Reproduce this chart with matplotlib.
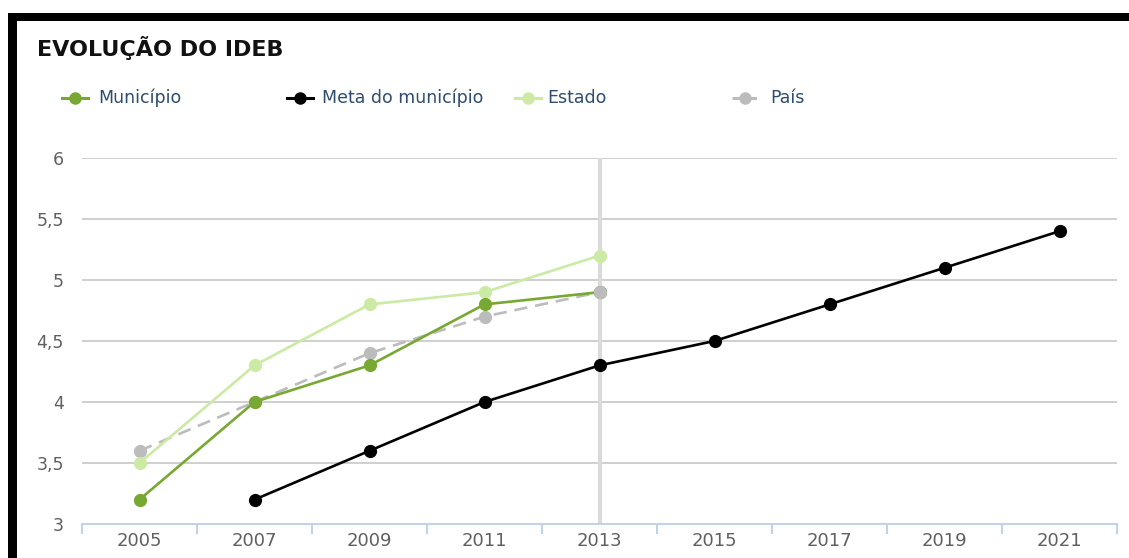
import matplotlib
matplotlib.use("Agg")
import matplotlib.pyplot as plt
from matplotlib.lines import Line2D
from matplotlib.patches import Rectangle
from matplotlib.ticker import FixedLocator, FuncFormatter

years = ["2005", "2007", "2009", "2011", "2013", "2015", "2017", "2019", "2021"]
municipio = [3.2, 4.0, 4.3, 4.8, 4.9]
meta = [None, 3.2, 3.6, 4.0, 4.3, 4.5, 4.8, 5.1, 5.4]
estado = [3.5, 4.3, 4.8, 4.9, 5.2]
pais = [3.6, 4.0, 4.4, 4.7, 4.9]
y_ticks = [3, 3.5, 4, 4.5, 5, 5.5, 6]

C_MUN = "#76a832"
C_META = "#000000"
C_EST = "#cbeaa3"
C_PAIS = "#bcbcbc"
C_LEG = "#2e4d6e"
C_TICK = "#606060"

W, H = 1129, 558
fig = plt.figure(figsize=(W / 100, H / 100), dpi=100)
fig.patch.set_facecolor("white")

# frame
fig.add_artist(Rectangle((8 / W, 0), 9 / W, 1 - 13 / H, transform=fig.transFigure,
                         facecolor="black", edgecolor="none"))
fig.add_artist(Rectangle((8 / W, 1 - 21 / H), 1 - 8 / W, 8 / H, transform=fig.transFigure,
                         facecolor="black", edgecolor="none"))

ax = fig.add_axes([82 / W, (H - 524) / H, (1117 - 82) / W, (524 - 158) / H])
ax.set_xlim(-0.5, len(years) - 0.5)
ax.set_ylim(3, 6)
for s in ["top", "right", "left"]:
    ax.spines[s].set_visible(False)
ax.spines["bottom"].set_color("#c3d3e6")
ax.spines["bottom"].set_linewidth(1.5)

ax.set_yticks(y_ticks)
ax.yaxis.set_major_formatter(FuncFormatter(lambda v, p: ("%g" % v).replace(".", ",")))
ax.tick_params(axis="y", length=0, pad=13, labelsize=12.5, labelcolor=C_TICK)
for yv in y_ticks[1:]:
    ax.axhline(yv, color="#cfcfcf", lw=1.4, zorder=0)

ax.set_xticks(range(len(years)))
ax.set_xticklabels(years)
ax.xaxis.set_minor_locator(FixedLocator([i - 0.5 for i in range(len(years) + 1)]))
ax.tick_params(axis="x", which="major", length=0, pad=6, labelsize=13, labelcolor=C_TICK)
ax.tick_params(axis="x", which="minor", length=7, width=1.5, color="#c3d3e6", direction="out")

# vertical marker at 2013
ax.axvline(years.index("2013"), color="#dadada", lw=3, zorder=1)

ms = 9.5
lw = 1.9
xi = list(range(len(years)))
ax.plot(xi[:len(pais)], pais, color=C_PAIS, lw=lw, ls=(0, (5, 3)), marker="o", ms=ms,
        markeredgewidth=0, zorder=3)
ax.plot(xi[:len(estado)], estado, color=C_EST, lw=lw, marker="o", ms=ms,
        markeredgewidth=0, zorder=3)
ax.plot(xi[:len(municipio)], municipio, color=C_MUN, lw=lw, marker="o", ms=ms,
        markeredgewidth=0, zorder=4)
mx = [x for x, v in zip(xi, meta) if v is not None]
my = [v for v in meta if v is not None]
ax.plot(mx, my, color=C_META, lw=lw, marker="o", ms=ms, markeredgewidth=0, zorder=5)
# pais point at 2013 drawn on top (as in reference)
ax.plot([xi[len(pais) - 1]], [pais[-1]], color=C_PAIS, marker="o", ms=ms,
        markeredgewidth=0, zorder=6)

# title
fig.text(37 / W, 1 - 48 / H, "EVOLUÇÃO DO IDEB", fontsize=16, fontweight="bold",
         color="#111111", va="center", ha="left")

# legend
legend_items = [
    ("Município", C_MUN, "-", 75, 98),
    ("Meta do município", C_META, "-", 300, 322),
    ("Estado", C_EST, "-", 528, 547),
    ("País", C_PAIS, (0, (3, 2)), 745, 770),
]
ly = 1 - 98 / H
for label, col, ls, mxp, tx in legend_items:
    fig.add_artist(Line2D([(mxp - 13) / W, (mxp + 13) / W], [ly, ly], transform=fig.transFigure,
                          color=col, lw=2.2, ls=ls))
    fig.add_artist(Line2D([mxp / W], [ly], transform=fig.transFigure, color=col,
                          marker="o", ms=9, markeredgewidth=0, ls="none"))
    fig.text(tx / W, ly, label, fontsize=12.5, color=C_LEG, va="center", ha="left")

fig.savefig("out.png", dpi=100)
